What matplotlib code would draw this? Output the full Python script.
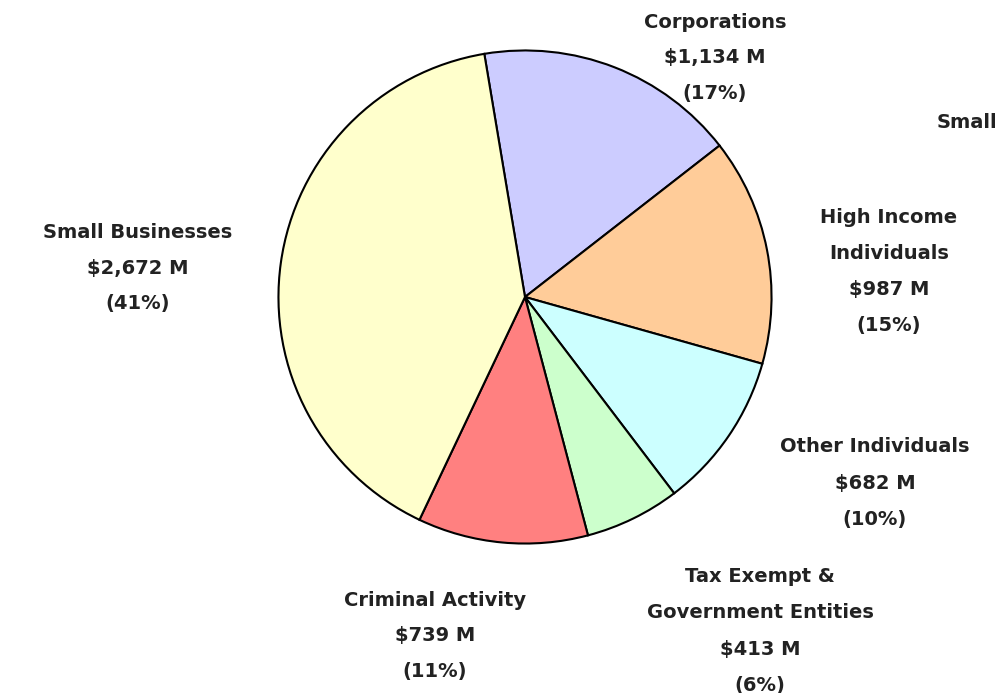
import matplotlib
matplotlib.use("Agg")
import matplotlib.pyplot as plt

# data, in the order the slices run clockwise from the top
names = ["Corporations", "High Income\nIndividuals", "Other Individuals",
         "Tax Exempt &\nGovernment Entities", "Criminal Activity", "Small Businesses"]
values = [1134, 987, 682, 413, 739, 2672]   # $ millions
percents = [17, 15, 10, 6, 11, 41]
colors = ["#CCCCFF", "#FFCC99", "#CCFFFF", "#CCFFCC", "#FF8080", "#FFFFCC"]

# label block anchors in pixels (centre x, first line y)
label_pos = [(715, 22), (889, 218), (875, 447), (760, 577), (435, 600), (138, 232)]

W, H = 1000, 693
fig = plt.figure(figsize=(W / 100, H / 100), dpi=100)
fig.patch.set_facecolor("white")

cx, cy, r = 525, 297, 249
ax = fig.add_axes([(cx - r) / W, 1 - (cy + r) / H, 2 * r / W, 2 * r / H])
ax.pie(values, colors=colors, startangle=99.5, counterclock=False,
       wedgeprops=dict(edgecolor="black", linewidth=1.5))
ax.set_xlim(-1.01, 1.01)
ax.set_ylim(-1.01, 1.01)
ax.set_aspect("equal")
ax.axis("off")

step = 36
for name, v, p, (x, y) in zip(names, values, percents, label_pos):
    lines = name.split("\n") + ["$%s M" % format(v, ","), "(%d%%)" % p]
    for i, line in enumerate(lines):
        fig.text(x / W, 1 - (y + i * step) / H, line, ha="center", va="center",
                 fontsize=14, fontweight="bold", color="#222222",
                 family="DejaVu Sans")

# clipped label at the right edge of the original
fig.text(937 / W, 1 - 122 / H, "Small", ha="left", va="center",
         fontsize=14, fontweight="bold", color="#222222", family="DejaVu Sans")

fig.savefig("out.png", dpi=100, facecolor="white")
